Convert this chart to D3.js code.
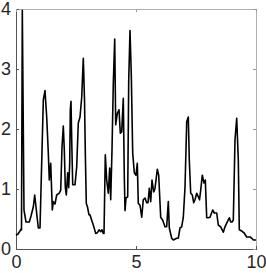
<!DOCTYPE html>
<html><head><meta charset="utf-8">
<script src="https://cdn.jsdelivr.net/npm/d3@7"></script>
<style>html,body{margin:0;padding:0;background:#fff;}svg{display:block;}</style>
</head><body>
<script>
const xValues = [0,0.083,0.167,0.208,0.229,0.263,0.333,0.417,0.554,0.625,0.721,0.779,0.888,0.929,1.0,1.138,1.208,1.279,1.346,1.388,1.446,1.513,1.554,1.625,1.696,1.804,1.863,1.917,1.971,2.013,2.054,2.096,2.154,2.196,2.238,2.263,2.292,2.321,2.363,2.458,2.529,2.596,2.667,2.738,2.804,2.854,2.888,2.929,2.979,3.042,3.083,3.154,3.221,3.321,3.388,3.458,3.529,3.583,3.638,3.667,3.721,3.779,3.846,3.904,3.946,4.0,4.054,4.113,4.154,4.221,4.292,4.346,4.404,4.471,4.513,4.542,4.583,4.654,4.696,4.75,4.804,4.863,4.929,5.0,5.054,5.096,5.167,5.238,5.304,5.375,5.446,5.5,5.554,5.613,5.667,5.738,5.792,5.888,5.946,6.029,6.113,6.208,6.279,6.346,6.388,6.488,6.554,6.696,6.763,6.833,6.904,6.971,7.042,7.113,7.179,7.221,7.279,7.346,7.404,7.458,7.529,7.596,7.646,7.696,7.763,7.833,7.888,7.946,8.013,8.083,8.196,8.263,8.363,8.429,8.529,8.638,8.708,8.779,8.888,8.946,9.0,9.054,9.125,9.196,9.263,9.304,9.404,9.5,9.613,9.75,9.821,9.892,10];
const yValues = [0.23,0.25,0.3,0.33,0.32,3.98,0.65,0.45,0.45,0.55,0.7,0.9,0.5,0.35,0.35,2.48,2.64,2.2,1.6,1.15,1.43,0.65,0.79,0.75,0.9,0.93,0.98,1.7,2.05,1.65,1.03,0.9,1.27,1.02,1.43,2.32,2.46,1.82,1.07,1.07,1.37,2.1,2.2,2.53,3.18,2.5,1.6,0.76,0.7,0.57,0.57,0.48,0.4,0.26,0.27,0.32,0.29,0.32,0.26,0.26,1.57,1.15,0.93,1.35,0.82,1.65,2.76,3.5,2.07,2.26,2.32,1.93,1.95,2.51,1.2,0.64,0.85,0.87,2.8,3.64,2.9,1.6,1.27,1.23,1.43,0.76,0.73,0.53,0.82,0.85,0.77,0.77,1.01,0.79,1.15,0.95,1.01,1.33,1.23,0.53,0.48,0.37,0.37,0.79,0.35,0.18,0.15,0.18,0.18,0.35,0.37,0.53,1.03,2.12,2.2,1.48,0.93,0.9,0.77,0.82,0.93,0.87,0.82,0.98,1.23,1.1,1.15,0.52,0.52,0.53,0.65,0.6,0.6,0.4,0.37,0.28,0.37,0.43,0.52,0.45,0.45,0.48,1.82,2.18,1.48,0.32,0.3,0.27,0.2,0.2,0.18,0.15,0.15];
const xTicks = [0,5,10];
const yTicks = [0,1,2,3,4];

const W = 266, H = 273;
const m = {left:16, top:9, right:10, bottom:24};
const svg = d3.select("body").append("svg").attr("width",W).attr("height",H);
const x = d3.scaleLinear().domain([0,10]).range([m.left, W-m.right]);
const y = d3.scaleLinear().domain([0,4]).range([H-m.bottom, m.top]);
const font = "'Liberation Sans', Arial, sans-serif";

// box
svg.append("rect").attr("x",x(0)).attr("y",y(4)).attr("width",x(10)-x(0)).attr("height",y(0)-y(4))
  .attr("fill","none").attr("stroke","#b0b0b0").attr("stroke-width",1).attr("shape-rendering","crispEdges");

const ax = svg.append("g").attr("transform",`translate(0,${y(0)})`)
  .call(d3.axisBottom(x).tickValues(xTicks).tickFormat(d3.format("d")).tickSize(-3).tickPadding(6));
const ay = svg.append("g").attr("transform",`translate(${x(0)},0)`)
  .call(d3.axisLeft(y).tickValues(yTicks).tickFormat(d3.format("d")).tickSize(-3).tickPadding(5));
const axT = svg.append("g").attr("transform",`translate(0,${y(4)})`)
  .call(d3.axisTop(x).tickValues(xTicks).tickFormat("").tickSize(-3));
const ayR = svg.append("g").attr("transform",`translate(${x(10)},0)`)
  .call(d3.axisRight(y).tickValues(yTicks).tickFormat("").tickSize(-3));
[axT, ayR].forEach(g => { g.select(".domain").remove(); g.selectAll("line").attr("stroke","#999"); });
[ax, ay].forEach(g => {
  g.select(".domain").attr("stroke","#555").attr("shape-rendering","crispEdges");
  g.selectAll("line").attr("stroke","#555");
  g.selectAll("text").attr("font-family",font).attr("font-size",18).attr("fill","#262626");
});

const line = d3.line().x((d,i)=>x(xValues[i])).y(d=>y(d));
svg.append("path").datum(yValues).attr("d",line).attr("fill","none")
  .attr("stroke","#000").attr("stroke-width",1.6).attr("stroke-linejoin","round");
</script>
</body></html>
